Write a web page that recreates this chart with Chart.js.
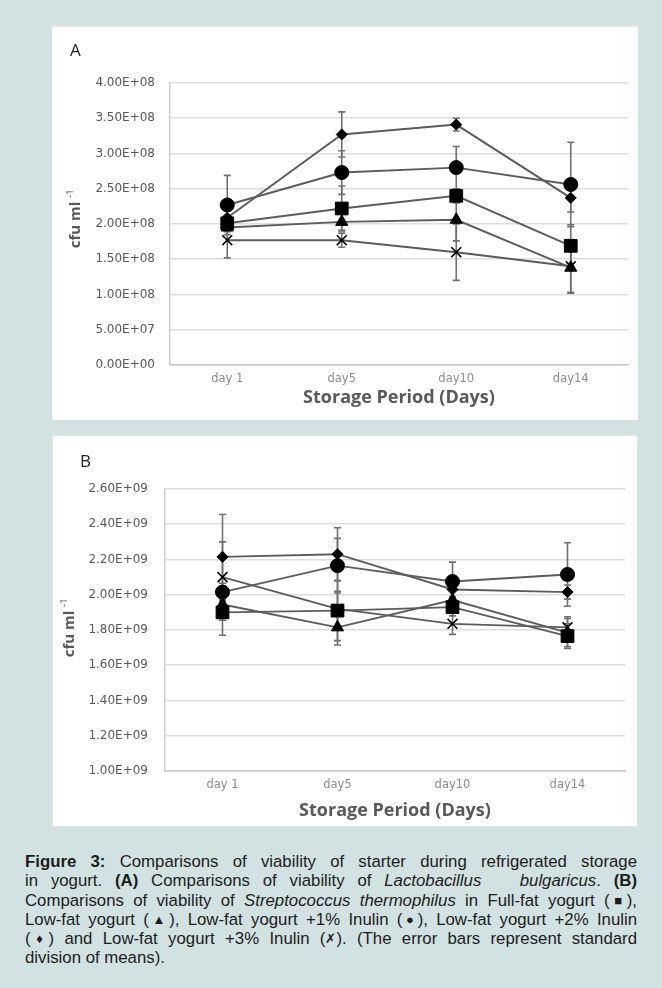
<!DOCTYPE html>
<html>
<head>
<meta charset="utf-8">
<script src="https://cdn.jsdelivr.net/npm/chart.js@4"></script>
<style>
  body { margin: 0; width: 662px; height: 988px; background: #d2e2e2; position: relative; overflow: hidden; }
  .panel { position: absolute; left: 52px; width: 586px; background: #fff; border-top: 2px solid #e6e6e6; box-sizing: border-box; }
  .panel canvas { position: absolute; left: 0; top: 0; }
  .tag { position: absolute; font: 17px "Open Sans", sans-serif; color: #222; line-height: 20px; }
  .caption { position: absolute; left: 25px; top: 852px; width: 612px;
    font: 16.8px "Liberation Sans", Arial, sans-serif; color: #1c1c1c; }
  .caption div { line-height: 19.3px; text-align: justify; text-align-last: justify; white-space: nowrap; }
  .caption div.last { text-align-last: left; }
  .caption .sym { font-size: 13px; vertical-align: 1px; }
</style>
</head>
<body>
<div class="panel" id="panelA" style="top:25px;height:395px;"><canvas id="chartA" width="586" height="395"></canvas></div>
<div class="panel" id="panelB" style="top:435px;height:392px;border:1px solid #e6e6e6;"><canvas id="chartB" width="586" height="392"></canvas></div>
<div class="tag" style="left:70px;top:40px;">A</div>
<div class="tag" style="left:80px;top:451px;">B</div>
<div class="caption">
  <div><b>Figure 3:</b> Comparisons of viability of starter during refrigerated storage</div>
  <div>in yogurt. <b>(A)</b> Comparisons of viability of <i>Lactobacillus&nbsp;&nbsp; bulgaricus</i>. <b>(B)</b></div>
  <div>Comparisons of viability of <i>Streptococcus thermophilus</i> in Full-fat yogurt (<span class="sym">&#9632;</span>),</div>
  <div>Low-fat yogurt (<span class="sym">&#9650;</span>), Low-fat yogurt +1% Inulin (<span class="sym">&#9679;</span>), Low-fat yogurt +2% Inulin</div>
  <div>(<span class="sym">&#9830;</span>) and Low-fat yogurt +3% Inulin (<span class="sym">&#10007;</span>). (The error bars represent standard</div>
  <div class="last">division of means).</div>
</div>
<script>
const days = ['day 1', 'day5', 'day10', 'day14'];

// panel A - Lactobacillus bulgaricus (cfu/ml)
const aFullFat = [2.01e8, 2.22e8, 2.40e8, 1.69e8];
const aLowFat = [1.95e8, 2.03e8, 2.06e8, 1.38e8];
const aInulin1 = [2.27e8, 2.73e8, 2.80e8, 2.56e8];
const aInulin2 = [2.09e8, 3.27e8, 3.41e8, 2.37e8];
const aInulin3 = [1.77e8, 1.77e8, 1.60e8, 1.40e8];
const aFullFatErr = [0.08e8, 0.32e8, 0.10e8, 0.30e8];
const aLowFatErr = [0.06e8, 0.12e8, 0.30e8, 0.35e8];
const aInulin1Err = [0.42e8, 0.31e8, 0.30e8, 0.60e8];
const aInulin2Err = [0.10e8, 0.32e8, 0.09e8, 0.20e8];
const aInulin3Err = [0.25e8, 0.10e8, 0.40e8, 0.38e8];

// panel B - Streptococcus thermophilus (cfu/ml)
const bFullFat = [1.90e9, 1.91e9, 1.93e9, 1.765e9];
const bLowFat = [1.945e9, 1.815e9, 1.97e9, 1.785e9];
const bInulin1 = [2.015e9, 2.165e9, 2.075e9, 2.115e9];
const bInulin2 = [2.215e9, 2.23e9, 2.03e9, 2.015e9];
const bInulin3 = [2.10e9, 1.92e9, 1.835e9, 1.815e9];
const bFullFatErr = [0.13e9, 0.17e9, 0.05e9, 0.07e9];
const bLowFatErr = [0.09e9, 0.10e9, 0.06e9, 0.08e9];
const bInulin1Err = [0.05e9, 0.155e9, 0.11e9, 0.18e9];
const bInulin2Err = [0.24e9, 0.15e9, 0.04e9, 0.04e9];
const bInulin3Err = [0.20e9, 0.10e9, 0.06e9, 0.06e9];

function sci(v) {
    if (Math.abs(v) < 1) return '0.00E+00';
    var e = Math.floor(Math.log10(v) + 1e-9);
    var m = v / Math.pow(10, e);
    return m.toFixed(2) + 'E+' + String(e).padStart(2, '0');
}

// error bars, drawn behind the lines and markers
const errorBars = {
    id: 'errorBars',
    beforeDatasetsDraw: function (chart) {
        var ctx = chart.ctx, y = chart.scales.y;
        ctx.save();
        ctx.strokeStyle = '#707070';
        ctx.lineWidth = 1.6;
        chart.data.datasets.forEach(function (ds, i) {
            chart.getDatasetMeta(i).data.forEach(function (pt, j) {
                var top = y.getPixelForValue(ds.data[j] + ds.errors[j]);
                var bot = y.getPixelForValue(ds.data[j] - ds.errors[j]);
                ctx.beginPath();
                ctx.moveTo(pt.x, top); ctx.lineTo(pt.x, bot);
                ctx.moveTo(pt.x - 3.5, top); ctx.lineTo(pt.x + 3.5, top);
                ctx.moveTo(pt.x - 3.5, bot); ctx.lineTo(pt.x + 3.5, bot);
                ctx.stroke();
            });
        });
        ctx.restore();
    }
};

// rotated "cfu ml -1" title with superscript
const yTitle = {
    id: 'yTitle',
    afterDraw: function (chart, args, opts) {
        var ctx = chart.ctx;
        ctx.save();
        ctx.translate(opts.x, opts.y);
        ctx.rotate(-Math.PI / 2);
        ctx.fillStyle = '#595959';
        ctx.textBaseline = 'middle';
        ctx.font = 'bold 15px "Open Sans"';
        var w1 = ctx.measureText('cfu ml').width;
        ctx.font = '9px "Open Sans"';
        var w2 = ctx.measureText('-1').width;
        var start = -(w1 + 4 + w2) / 2;
        ctx.font = 'bold 15px "Open Sans"';
        ctx.fillText('cfu ml', start, 0);
        ctx.font = '9px "Open Sans"';
        ctx.fillText('-1', start + w1 + 4, -6);
        ctx.restore();
    }
};

function series(label, data, errors, style, radius) {
    return {
        label: label,
        data: data,
        errors: errors,
        borderColor: '#5c5c5c',
        borderWidth: 1.9,
        pointStyle: style,
        pointRadius: radius,
        pointBackgroundColor: '#000',
        pointBorderColor: '#000',
        pointBorderWidth: style === 'crossRot' ? 1.6 : 1
    };
}

function makeChart(id, datasets, min, max, step, pad, yw, tickPad, titleAt, xTitlePad) {
    return new Chart(document.getElementById(id), {
        type: 'line',
        data: { labels: days, datasets: datasets },
        plugins: [errorBars, yTitle],
        options: {
            responsive: false,
            animation: false,
            layout: { padding: pad },
            plugins: { legend: { display: false }, tooltip: { enabled: false }, yTitle: titleAt },
            scales: {
                x: {
                    offset: true,
                    grid: { display: false, drawTicks: false },
                    border: { color: '#c8c8c8', width: 1.5 },
                    ticks: { color: '#8c8c8c', font: { family: 'DejaVu Sans', size: 11.5 }, padding: 7 },
                    title: { display: true, text: 'Storage Period (Days)', color: '#595959',
                        font: { family: 'Open Sans', size: 18, weight: 'bold' }, padding: { top: 0, bottom: xTitlePad } },
                    afterFit: function (s) { s.height = 57; }
                },
                y: {
                    min: min, max: max,
                    grid: { color: '#dedede', lineWidth: 1.6, drawTicks: false },
                    border: { color: '#d0d0d0', width: 1.5 },
                    ticks: { stepSize: step, color: '#595959', padding: tickPad,
                        font: { family: 'DejaVu Sans', size: 12 }, callback: function (v) { return sci(v); } },
                    afterFit: function (s) { s.width = yw; }
                }
            }
        }
    });
}

makeChart('chartA', [
    series('Full-fat', aFullFat, aFullFatErr, 'rect', 9),
    series('Low-fat', aLowFat, aLowFatErr, 'triangle', 7),
    series('Low-fat +1% Inulin', aInulin1, aInulin1Err, 'circle', 7),
    series('Low-fat +2% Inulin', aInulin2, aInulin2Err, 'rectRot', 5.5),
    series('Low-fat +3% Inulin', aInulin3, aInulin3Err, 'crossRot', 7)
], 0, 4e8, 5e7, { left: 0, right: 9, top: 56, bottom: 0 }, 118, 15, { x: 24, y: 192 }, 13);

makeChart('chartB', [
    series('Full-fat', bFullFat, bFullFatErr, 'rect', 9),
    series('Low-fat', bLowFat, bLowFatErr, 'triangle', 7),
    series('Low-fat +1% Inulin', bInulin1, bInulin1Err, 'circle', 7),
    series('Low-fat +2% Inulin', bInulin2, bInulin2Err, 'rectRot', 5.5),
    series('Low-fat +3% Inulin', bInulin3, bInulin3Err, 'crossRot', 7)
], 1e9, 2.6e9, 2e8, { left: 0, right: 14, top: 53, bottom: 0 }, 112, 17, { x: 17, y: 192 }, 6);
</script>
</body>
</html>
